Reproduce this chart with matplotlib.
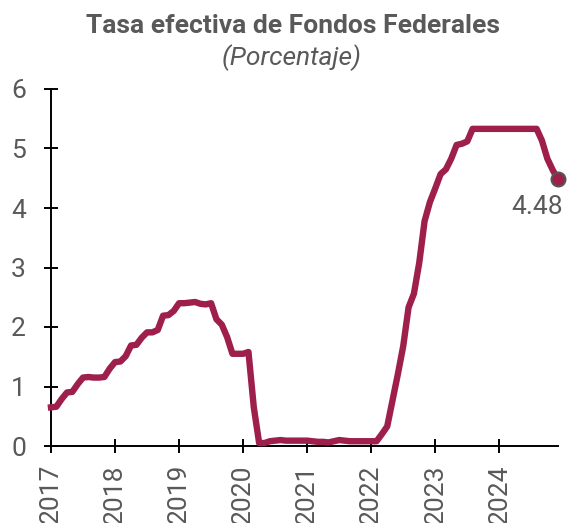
import numpy as np
from matplotlib import pyplot as plt

plt.rcParams['font.family'] = ['Roboto', 'DejaVu Sans']

# Tasa efectiva de fondos federales, promedio mensual, ene-2017 a dic-2024
TASA_2017 = [0.65, 0.66, 0.79, 0.90, 0.91, 1.04, 1.15, 1.16, 1.15, 1.15, 1.16, 1.30]
TASA_2018 = [1.41, 1.42, 1.51, 1.69, 1.70, 1.82, 1.91, 1.91, 1.95, 2.19, 2.20, 2.27]
TASA_2019 = [2.40, 2.40, 2.41, 2.42, 2.39, 2.38, 2.40, 2.13, 2.04, 1.83, 1.55, 1.55]
TASA_2020 = [1.55, 1.58, 0.65, 0.05, 0.05, 0.08, 0.09, 0.10, 0.09, 0.09, 0.09, 0.09]
TASA_2021 = [0.09, 0.08, 0.07, 0.07, 0.06, 0.08, 0.10, 0.09, 0.08, 0.08, 0.08, 0.08]
TASA_2022 = [0.08, 0.08, 0.20, 0.33, 0.77, 1.21, 1.68, 2.33, 2.56, 3.08, 3.78, 4.10]
TASA_2023 = [4.33, 4.57, 4.65, 4.83, 5.06, 5.08, 5.12, 5.33, 5.33, 5.33, 5.33, 5.33]
TASA_2024 = [5.33, 5.33, 5.33, 5.33, 5.33, 5.33, 5.33, 5.33, 5.13, 4.83, 4.64, 4.48]

YEARS = [2017, 2018, 2019, 2020, 2021, 2022, 2023, 2024]

LINE_COLOR = '#9E1F4B'
TEXT_GRAY = '#595959'

tasa = np.array(TASA_2017 + TASA_2018 + TASA_2019 + TASA_2020
                + TASA_2021 + TASA_2022 + TASA_2023 + TASA_2024)
fechas = YEARS[0] + np.arange(len(tasa)) / 12.0

fig = plt.figure(figsize=(5.67, 5.23), dpi=100)
ax = fig.add_axes([51 / 567, 77 / 523, 507 / 567, 357 / 523])

ax.plot(fechas, tasa, color=LINE_COLOR, lw=4.6, solid_joinstyle='round',
        clip_on=False, zorder=3)
ax.plot(fechas[-1], tasa[-1], 'o', ms=10, mfc=LINE_COLOR, mec='#555555',
        mew=1.5, clip_on=False, zorder=4)
ax.annotate(f'{tasa[-1]:.2f}', (fechas[-1], tasa[-1]), xytext=(3.5, -11),
            textcoords='offset points', ha='right', va='top',
            fontsize=19, color=TEXT_GRAY)

ax.set_xlim(fechas[0], fechas[-1])
ax.set_ylim(0, 6)
ax.set_xticks(YEARS)
ax.set_xticklabels([str(y) for y in YEARS], rotation=90)
ax.set_yticks(range(0, 7))

for side in ('top', 'right'):
    ax.spines[side].set_visible(False)
for side in ('left', 'bottom'):
    ax.spines[side].set_linewidth(1.4)
    ax.spines[side].set_color('black')
ax.tick_params(direction='inout', length=10, width=1.4, color='black',
               labelsize=19, labelcolor=TEXT_GRAY)
ax.tick_params(axis='y', pad=13)
ax.tick_params(axis='x', pad=8)

fig.text(293 / 567, 1 - 26 / 523, 'Tasa efectiva de Fondos Federales',
         ha='center', va='center', fontsize=19, fontweight='bold',
         color=TEXT_GRAY)
fig.text(292 / 567, 1 - 58 / 523, '(Porcentaje)', ha='center', va='center',
         fontsize=19, style='italic', color=TEXT_GRAY)

fig.savefig('out.png', dpi=100)
